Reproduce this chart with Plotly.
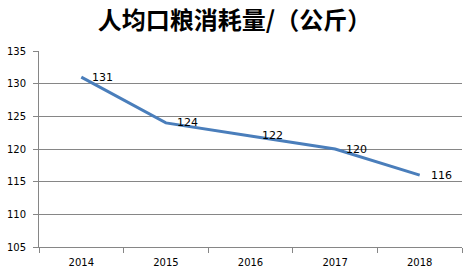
import plotly.graph_objects as go

years = ["2014", "2015", "2016", "2017", "2018"]
values = [131, 124, 122, 120, 116]
y_ticks = [105, 110, 115, 120, 125, 130, 135]

fig = go.Figure()
fig.add_trace(go.Scatter(
    x=years, y=values, mode="lines",
    line=dict(color="#4a7ebb", width=3),
    showlegend=False,
))
for i, v in enumerate(values):
    fig.add_annotation(x=i, y=v, xref="x", yref="y", text=str(v), showarrow=False,
                       xanchor="left", yanchor="middle", xshift=9,
                       font=dict(family="DejaVu Sans", size=11, color="#000000"))

fig.update_layout(
    width=469, height=275,
    margin=dict(l=37, r=7, t=51, b=28),
    paper_bgcolor="white", plot_bgcolor="white",
    title=dict(text="<b>人均口粮消耗量/（公斤）</b>", x=0.5, xanchor="center",
               y=0.925, yanchor="middle",
               font=dict(family="Noto Sans CJK SC", size=24, color="#000000")),
)
fig.update_xaxes(
    type="category", range=[-0.5, 4.5], tickson="boundaries",
    ticks="outside", ticklen=5, tickcolor="#868686",
    showline=True, linecolor="#868686", linewidth=1,
    showgrid=False, ticklabelstandoff=6,
    tickfont=dict(family="DejaVu Sans", size=10, color="#000000"),
)
fig.update_yaxes(
    range=[105, 135], tickvals=y_ticks,
    ticks="outside", ticklen=5, tickcolor="#868686",
    showline=True, linecolor="#868686", linewidth=1,
    showgrid=True, gridcolor="#868686", gridwidth=1,
    zeroline=False, ticklabelstandoff=5,
    tickfont=dict(family="DejaVu Sans", size=10, color="#000000"),
)

fig.write_html("out.html")
